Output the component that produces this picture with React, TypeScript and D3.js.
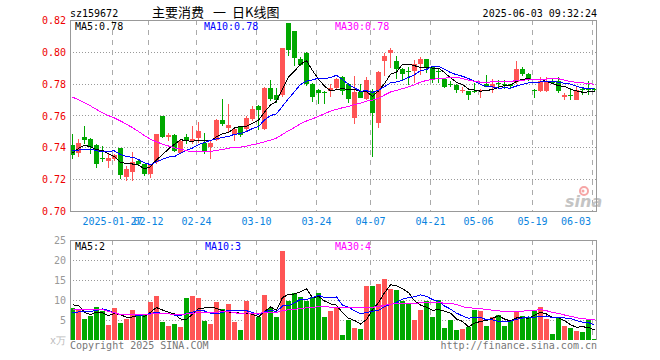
import React from 'react';
import * as d3 from 'd3';

const dates = [
  '2025-01-16','2025-01-17','2025-01-20','2025-01-21','2025-01-22','2025-01-23','2025-01-24','2025-01-27',
  '2025-02-05','2025-02-06','2025-02-07','2025-02-10','2025-02-11','2025-02-12','2025-02-13','2025-02-14',
  '2025-02-17','2025-02-18','2025-02-19','2025-02-20','2025-02-21','2025-02-24','2025-02-25','2025-02-26',
  '2025-02-27','2025-02-28','2025-03-03','2025-03-04','2025-03-05','2025-03-06','2025-03-07','2025-03-10',
  '2025-03-11','2025-03-12','2025-03-13','2025-03-14','2025-03-17','2025-03-18','2025-03-19','2025-03-20',
  '2025-03-21','2025-03-24','2025-03-25','2025-03-26','2025-03-27','2025-03-28','2025-03-31','2025-04-01',
  '2025-04-02','2025-04-03','2025-04-07','2025-04-08','2025-04-09','2025-04-10','2025-04-11','2025-04-14',
  '2025-04-15','2025-04-16','2025-04-17','2025-04-18','2025-04-21','2025-04-22','2025-04-23','2025-04-24',
  '2025-04-25','2025-04-28','2025-04-29','2025-04-30','2025-05-06','2025-05-07','2025-05-08','2025-05-09',
  '2025-05-12','2025-05-13','2025-05-14','2025-05-15','2025-05-16','2025-05-19','2025-05-20','2025-05-21',
  '2025-05-22','2025-05-23','2025-05-26','2025-05-27','2025-05-28','2025-05-29','2025-05-30','2025-06-03',
];

const open = [
  0.7417,0.7365,0.7469,0.7458,0.7415,0.7333,0.7315,0.7327,0.7396,0.7215,0.7246,0.7319,0.7298,0.7235,0.7308,0.7600,
  0.7469,0.7479,0.7365,0.7469,0.7444,0.7460,0.7433,0.7406,0.7448,0.7577,0.7527,0.7481,0.7531,0.7517,0.7579,0.7663,
  0.7517,0.7777,0.7731,0.7731,0.8183,0.8131,0.7960,0.7996,0.7802,0.7765,0.7752,0.7756,0.7777,0.7846,0.7804,0.7590,
  0.7752,0.7704,0.7760,0.7554,0.7944,0.7996,0.7946,0.7896,0.7881,0.7881,0.7927,0.7958,0.7906,0.7881,0.7833,0.7800,
  0.7796,0.7756,0.7754,0.7754,0.7756,0.7798,0.7785,0.7806,0.7804,0.7798,0.7813,0.7896,0.7865,0.7765,0.7754,0.7754,
  0.7820,0.7817,0.7717,0.7733,0.7702,0.7767,0.7771,0.7769,
];
const high = [
  0.7485,0.7454,0.7535,0.7462,0.7423,0.7413,0.7360,0.7362,0.7396,0.7288,0.7371,0.7325,0.7300,0.7300,0.7485,0.7600,
  0.7496,0.7485,0.7450,0.7485,0.7535,0.7560,0.7496,0.7440,0.7580,0.7704,0.7673,0.7520,0.7535,0.7600,0.7663,0.7670,
  0.7780,0.7829,0.7777,0.8030,0.8183,0.8131,0.7969,0.8000,0.7805,0.7770,0.7756,0.7798,0.7840,0.7850,0.7810,0.7850,
  0.7800,0.7848,0.7770,0.7880,0.7998,0.8025,0.7977,0.7900,0.7910,0.7952,0.7970,0.7960,0.7910,0.7900,0.7840,0.7820,
  0.7800,0.7785,0.7756,0.7806,0.7770,0.7858,0.7830,0.7825,0.7825,0.7800,0.7946,0.7910,0.7870,0.7770,0.7844,0.7844,
  0.7830,0.7844,0.7744,0.7773,0.7783,0.7785,0.7817,0.7775,
];
const low = [
  0.7329,0.7344,0.7423,0.7360,0.7273,0.7308,0.7273,0.7320,0.7204,0.7194,0.7194,0.7290,0.7220,0.7210,0.7300,0.7460,
  0.7444,0.7375,0.7360,0.7423,0.7423,0.7433,0.7360,0.7329,0.7440,0.7538,0.7496,0.7444,0.7470,0.7506,0.7570,0.7510,
  0.7510,0.7694,0.7683,0.7720,0.7975,0.7913,0.7915,0.7790,0.7690,0.7673,0.7673,0.7719,0.7770,0.7730,0.7683,0.7548,
  0.7710,0.7700,0.7344,0.7527,0.7850,0.7900,0.7831,0.7820,0.7796,0.7806,0.7860,0.7870,0.7806,0.7806,0.7775,0.7780,
  0.7744,0.7744,0.7698,0.7744,0.7712,0.7780,0.7744,0.7780,0.7770,0.7770,0.7800,0.7854,0.7820,0.7713,0.7750,0.7750,
  0.7800,0.7744,0.7698,0.7698,0.7700,0.7733,0.7729,0.7755,
];
const close = [
  0.7354,0.7433,0.7452,0.7406,0.7298,0.7327,0.7333,0.7355,0.7229,0.7267,0.7308,0.7298,0.7235,0.7298,0.7485,0.7469,
  0.7479,0.7381,0.7444,0.7448,0.7454,0.7506,0.7375,0.7433,0.7577,0.7552,0.7546,0.7517,0.7481,0.7585,0.7646,0.7635,
  0.7777,0.7704,0.7698,0.8027,0.8017,0.7965,0.7923,0.7802,0.7719,0.7746,0.7748,0.7777,0.7833,0.7760,0.7708,0.7752,
  0.7715,0.7829,0.7617,0.7877,0.7977,0.8013,0.7896,0.7865,0.7879,0.7927,0.7958,0.7910,0.7833,0.7877,0.7785,0.7798,
  0.7765,0.7765,0.7733,0.7752,0.7765,0.7785,0.7798,0.7804,0.7800,0.7788,0.7896,0.7865,0.7827,0.7756,0.7817,0.7817,
  0.7806,0.7754,0.7733,0.7731,0.7765,0.7764,0.7762,0.7762,
];
// volume in 万 (10k)
const volume = [
  7.9,7.5,5.25,6,8.25,7.25,3.75,8,4.25,5.25,
  7.5,6.25,6.25,9.5,11,4.5,3.5,4,3.25,10.5,
  11,10.5,4.75,4,9.5,7.75,9,4.5,2.5,9.75,
  6.5,5.75,11.25,8,5.75,22.25,9.75,11.75,10.75,9.75,
  10.75,11.75,5.75,7.25,8,1.25,5,3,2.75,13.5,
  13.5,14,15.25,12.75,12.5,9.75,9,5,7.5,9.75,
  5.75,10,3,5,2.5,2.75,3.25,7.5,7.25,3.5,
  5.75,6.25,3.5,4.75,7.25,6,5.75,7.25,8.25,5.25,
  1.5,5.75,3.5,3,2.25,2,5,0.25,
];
// 29 sessions before the first visible day (needed for the moving averages)
const priorCloses = [
  0.7950,0.8020,0.7990,0.7960,0.7966,0.7860,0.7810,0.7777,0.7900,0.7935,
  0.8030,0.8010,0.7981,0.7970,0.7914,0.7820,0.7740,0.7674,0.7750,0.7662,
  0.7430,0.7380,0.7420,0.7390,0.7392,0.7291,0.7347,0.7461,0.7385,
];
const priorVolumes = [
  7.5,8,6.5,7,6,19,16.5,19.5,6,7,
  5,6.5,5.5,7,6,5,6.5,6,5.5,6,
  5,4,6,5.6,3,8,14,9,5,
];

const priceTicks = [0.82, 0.80, 0.78, 0.76, 0.74, 0.72, 0.70];
const volumeTicks = [25, 20, 15, 10, 5];
const tickDates = ['2025-01-27','2025-02-12','2025-02-24','2025-03-10','2025-03-24','2025-04-07','2025-04-21','2025-05-06','2025-05-19','2025-06-03'];
const tickLabels = ['2025-01-27','02-12','02-24','03-10','03-24','04-07','04-21','05-06','05-19','06-03'];
const maPeriods = [5, 10, 30];
const maColors = ['#000000', '#0000ff', '#ff00ff'];
const priceLegend = ['MA5:0.78', 'MA10:0.78', 'MA30:0.78'];
const volumeLegend = ['MA5:2', 'MA10:3', 'MA30:4'];
const titleParts = ['主要消费', '一', '日K线图'];

const MONO = '"DejaVu Sans Mono", "Liberation Mono", monospace';
const UP = '#ff5555';
const DOWN = '#00a800';

function movingAverage(prior: number[], values: number[], k: number): number[] {
  const all = prior.concat(values);
  const off = prior.length;
  return values.map((_, i) => d3.mean(all.slice(off + i - k + 1, off + i + 1)) as number);
}

export default function App() {
  const L = 70, R = 597, PT = 20, PB = 211, VT = 240, VB = 340;
  const x = d3.scaleBand<string>().domain(dates).range([L, L + 6 * dates.length - 1]).paddingInner(1 / 6).paddingOuter(0);
  const y = d3.scaleLinear().domain([0.70, 0.82]).range([PB + 0.5, PT + 0.5]);
  const yv = d3.scaleLinear().domain([0, 25]).range([VB, VT]);
  const cx = (i: number) => (x(dates[i]) as number) + 2.5;

  const priceMA = maPeriods.map(k => movingAverage(priorCloses, close, k));
  const volMA = maPeriods.map(k => movingAverage(priorVolumes, volume, k));
  const priceLine = d3.line<number>().x((_, i) => cx(i)).y(d => y(d));
  const volLine = d3.line<number>().x((_, i) => cx(i)).y(d => yv(d));

  const gx = (dt: string) => Math.floor(x(dt) as number) + 0.5;

  return (
    <div style={{ position: 'absolute', left: 0, top: 0 }}>
      <svg width={660} height={360} style={{ display: 'block', background: '#fff' }}>
        {/* header */}
        <text x={70} y={17} fontFamily={MONO} fontSize={10} fill="#000">sz159672</text>
        {titleParts.map((t, k) => (
          <text key={'tt' + k} x={[152, 213, 232][k]} y={17} fontFamily='"Noto Sans CJK SC", sans-serif' fontSize={13} fill="#000">{t}</text>
        ))}
        <text x={597} y={17} fontFamily={MONO} fontSize={10} fill="#000" textAnchor="end">2025-06-03 09:32:24</text>

        {/* grids */}
        <g shapeRendering="crispEdges">
          {priceTicks.slice(1, -1).map(t => (
            <line key={'pg' + t} x1={L} x2={R} y1={Math.floor(y(t)) + 0.5} y2={Math.floor(y(t)) + 0.5} stroke="#999" strokeDasharray="1,2" />
          ))}
          {tickDates.map(dt => (
            <line key={'vg' + dt} x1={gx(dt)} x2={gx(dt)} y1={PT} y2={PB} stroke="#aaa" strokeDasharray="5,5" />
          ))}
          {volumeTicks.slice(1).map(t => (
            <line key={'vgh' + t} x1={L} x2={R} y1={Math.floor(yv(t)) + 0.5} y2={Math.floor(yv(t)) + 0.5} stroke="#999" strokeDasharray="1,2" />
          ))}
          {tickDates.map(dt => (
            <line key={'vgv' + dt} x1={gx(dt)} x2={gx(dt)} y1={VT} y2={VB} stroke="#aaa" strokeDasharray="5,5" />
          ))}
        </g>

        {/* sina watermark */}
        <g>
          <circle cx={584} cy={191} r={4} fill="none" stroke="#f6a5a5" strokeWidth={2} />
          <circle cx={583} cy={191} r={1.5} fill="#f6a5a5" />
          <text x={565} y={207} fontFamily='"DejaVu Sans", sans-serif' fontStyle="italic" fontWeight="bold" fontSize={16} fill="#c4c4c4">sina</text>
        </g>

        {/* candles */}
        <g shapeRendering="crispEdges">
          {dates.map((dt, i) => {
            const o = open[i], c = close[i];
            const col = c > o ? UP : DOWN;
            const bx = x(dt) as number;
            const top = Math.round(y(Math.max(o, c)));
            const bot = Math.round(y(Math.min(o, c)));
            return (
              <g key={'c' + dt}>
                <line x1={bx + 2.5} x2={bx + 2.5} y1={Math.round(y(high[i]))} y2={Math.round(y(low[i]))} stroke={col} />
                <rect x={bx} y={top} width={x.bandwidth()} height={Math.max(1, bot - top)} fill={col} />
              </g>
            );
          })}
        </g>

        {/* price MAs */}
        <g fill="none" shapeRendering="crispEdges">
          {priceMA.map((m, k) => (
            <path key={'pm' + k} d={priceLine(m) as string} stroke={maColors[k]} strokeWidth={1} />
          ))}
        </g>

        {/* volume bars */}
        <g shapeRendering="crispEdges">
          {dates.map((dt, i) => (
            <rect key={'v' + dt} x={x(dt) as number} y={Math.round(yv(volume[i]))} width={x.bandwidth()}
              height={VB - Math.round(yv(volume[i]))} fill={close[i] > open[i] ? UP : DOWN} />
          ))}
        </g>
        <g fill="none" shapeRendering="crispEdges">
          {volMA.map((m, k) => (
            <path key={'vm' + k} d={volLine(m) as string} stroke={maColors[k]} strokeWidth={1} />
          ))}
        </g>

        {/* borders */}
        <g shapeRendering="crispEdges" fill="none" stroke="#999">
          <rect x={L + 0.5} y={PT + 0.5} width={R - L - 1} height={PB - PT} />
          <polyline points={`${L + 0.5},${VB} ${L + 0.5},${VT + 0.5} ${R - 0.5},${VT + 0.5} ${R - 0.5},${VB}`} />
        </g>

        {/* legends */}
        {priceLegend.map((t, k) => (
          <text key={'pl' + k} x={[75, 204, 335][k]} y={30} fontFamily={MONO} fontSize={10} fill={maColors[k]}>{t}</text>
        ))}
        {volumeLegend.map((t, k) => (
          <text key={'vl' + k} x={[75, 205, 335][k]} y={250} fontFamily={MONO} fontSize={10} fill={maColors[k]}>{t}</text>
        ))}

        {/* price axis labels */}
        {priceTicks.map(t => (
          <text key={'pt' + t} x={66} y={y(t) + 3.5} fontFamily={MONO} fontSize={10} fill="#ee0000" textAnchor="end">{t.toFixed(2)}</text>
        ))}
        {/* volume axis labels */}
        {volumeTicks.map(t => (
          <text key={'vt' + t} x={66} y={yv(t) + 3.5} fontFamily={MONO} fontSize={10} fill="#999" textAnchor="end">{t}</text>
        ))}
        <text x={66} y={344} fontFamily={MONO} fontSize={10} fill="#bbb" textAnchor="end">x万</text>

        {/* date labels */}
        {tickDates.map((dt, k) => {
          const w = tickLabels[k].length * 6.02;
          const c = Math.min(gx(dt), 591 - w / 2);
          return (
            <text key={'dl' + dt} x={c} y={225} fontFamily={MONO} fontSize={10} fill="#0a84e0" textAnchor="middle">{tickLabels[k]}</text>
          );
        })}

        {/* footer */}
        <text x={70} y={349} fontFamily={MONO} fontSize={10} fill="#777">Copyright 2025 SINA.COM</text>
        <text x={597} y={349} fontFamily={MONO} fontSize={10} fill="#777" textAnchor="end">http://finance.sina.com.cn</text>
      </svg>
    </div>
  );
}
